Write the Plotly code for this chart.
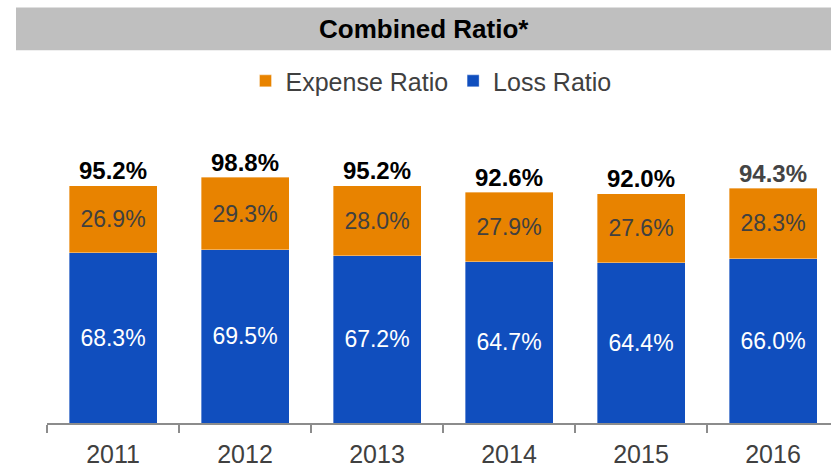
import plotly.graph_objects as go

years = ["2011", "2012", "2013", "2014", "2015", "2016"]
loss_ratio = [68.3, 69.5, 67.2, 64.7, 64.4, 66.0]
expense_ratio = [26.9, 29.3, 28.0, 27.9, 27.6, 28.3]
combined_ratio = [95.2, 98.8, 95.2, 92.6, 92.0, 94.3]

FONT = "Liberation Sans, Arial, sans-serif"
ORANGE = "#E88300"
BLUE = "#104EBE"
DARK = "#404040"
total_colors = ["#000000"] * 5 + ["#444444"]

W, H = 831, 468
ML, MR, MT, MB = 47, 0, 100, 43
PW = W - ML - MR
PH = H - MT - MB
CAT_PX = 132.0
PX_PER_UNIT = 2.505


def px_x(px):
    return (px - ML) / PW


def px_y(py):
    return (H - MB - py) / PH


fig = go.Figure()
fig.add_trace(go.Bar(
    x=years, y=loss_ratio, name="Loss Ratio",
    marker=dict(color=BLUE, line=dict(color="rgba(255,255,255,0.45)", width=0.8)),
    text=[f"{v:.1f}%" for v in loss_ratio], textposition="inside",
    insidetextanchor="middle", constraintext="none",
    textfont=dict(family=FONT, size=23, color="#FFFFFF"),
    hoverinfo="skip",
))
fig.add_trace(go.Bar(
    x=years, y=expense_ratio, name="Expense Ratio",
    marker=dict(color=ORANGE, line=dict(color="rgba(255,255,255,0.45)", width=0.8)),
    text=[f"{v:.1f}%" for v in expense_ratio], textposition="inside",
    insidetextanchor="middle", constraintext="none",
    textfont=dict(family=FONT, size=23, color=DARK),
    hoverinfo="skip",
))

for i, (tot, col) in enumerate(zip(combined_ratio, total_colors)):
    fig.add_annotation(x=i, y=tot, xref="x", yref="y",
                       text=f"<b>{tot:.1f}%</b>", showarrow=False,
                       xanchor="center", yanchor="middle", yshift=15,
                       font=dict(family=FONT, size=24, color=col))

# title banner
fig.add_shape(type="rect", xref="paper", yref="paper",
              x0=px_x(16), x1=px_x(W), y0=px_y(50), y1=px_y(7),
              fillcolor="#BFBFBF", line=dict(width=0), layer="below")
fig.add_annotation(xref="paper", yref="paper", x=px_x(424), y=px_y(29),
                   text="<b>Combined Ratio*</b>", showarrow=False,
                   xanchor="center", yanchor="middle",
                   font=dict(family=FONT, size=26, color="#000000"))

fig.update_layout(
    width=W, height=H,
    margin=dict(l=ML, r=MR, t=MT, b=MB),
    barmode="stack", bargap=1 - 88 / 132,
    paper_bgcolor="white", plot_bgcolor="white",
    font=dict(family=FONT, color=DARK),
    showlegend=True,
    legend=dict(orientation="h", traceorder="reversed",
                x=px_x(431), xanchor="center", y=px_y(81), yanchor="middle",
                font=dict(family=FONT, size=25, color=DARK),
                itemwidth=30, bgcolor="rgba(0,0,0,0)"),
    xaxis=dict(type="category", range=[-0.5, -0.5 + PW / CAT_PX],
               showline=True, linecolor="#8C8C8C", linewidth=1.5,
               ticks="outside", tickson="boundaries", ticklen=8,
               tickcolor="#8C8C8C", tickwidth=1.5,
               tickfont=dict(family=FONT, size=25, color=DARK),
               ticklabelstandoff=8,
               showgrid=False, zeroline=False, fixedrange=True),
    yaxis=dict(range=[0, PH / PX_PER_UNIT], visible=False,
               showgrid=False, zeroline=False, fixedrange=True),
)

fig.write_html("out.html", config={"displayModeBar": False},
               post_script="document.body.style.margin='0';document.body.style.overflow='hidden';")
